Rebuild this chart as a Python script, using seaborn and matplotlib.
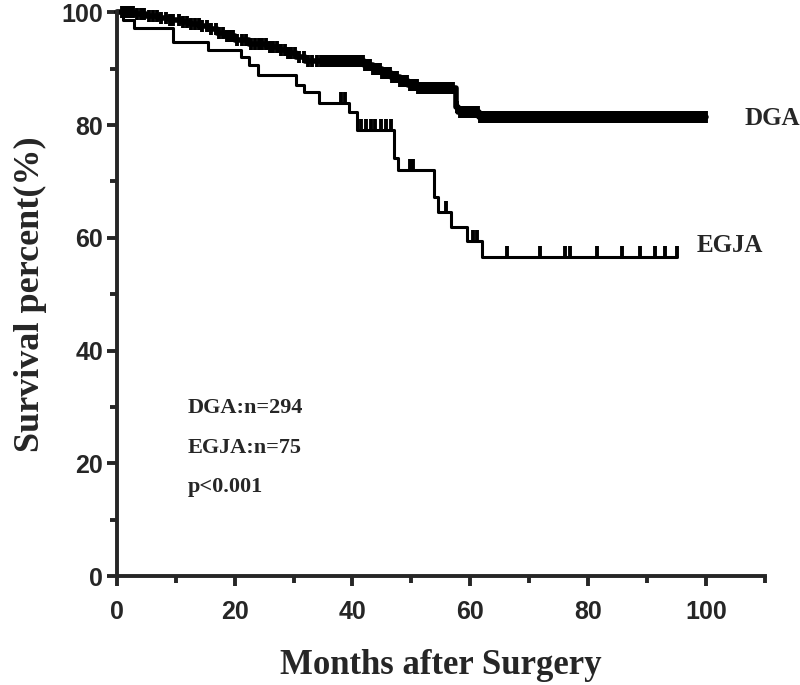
import matplotlib

matplotlib.use("Agg")
import matplotlib.pyplot as plt
import numpy as np
import pandas as pd
import seaborn as sns
from matplotlib.ticker import MultipleLocator

# Kaplan-Meier steps (month, survival %)
dga_time = [0, 3.0, 5.0, 7.0, 9.0, 11.0, 12.5, 14.0, 15.5, 17.0, 18.5, 20.0,
            22.5, 25.5, 27.5, 29.0, 30.5, 32.0, 42.0, 43.5, 45.0, 46.5, 48.0,
            49.5, 51.0, 57.5, 58.0, 61.5]
dga_surv = [100, 99.7, 99.3, 99.0, 98.6, 98.3, 97.9, 97.5, 97.1, 96.4, 95.8,
            95.1, 94.4, 93.9, 93.3, 92.7, 92.0, 91.3, 90.6, 89.9, 89.2, 88.5,
            87.8, 87.1, 86.5, 83.2, 82.4, 81.5]
# censored DGA patients are so dense that the marks merge into a band
dga_censor = [0.8, 1.2, 1.7, 2.0, 2.4, 2.8, 3.5, 4.1, 4.6, 5.5, 6.2, 6.8,
              7.5, 8.3, 9.0, 9.6, 10.5, 11.2, 12.0, 12.6, 13.2, 13.9, 14.5,
              15.3, 16.0, 16.8, 17.4, 18.0, 18.7, 19.2, 19.8, 20.4, 21.2, 22.0,
              22.7, 23.5, 24.1, 24.6, 25.3, 26.0, 26.6, 27.2, 27.9, 28.5, 29.0,
              29.6, 30.2, 31.0, 31.8, 32.5, 33.2, 34.0, 34.6, 35.2, 35.6, 36.0,
              36.5, 37.1, 37.5, 38.0, 38.4, 38.8, 39.2, 39.5, 39.9, 40.3, 40.6,
              41.0, 41.4, 41.8, 42.2, 42.6, 43.0, 43.5, 43.9, 44.3, 44.7, 45.1,
              45.6, 46.0, 46.4, 46.8, 47.2, 47.6, 48.0, 48.5, 48.9, 49.3, 49.7,
              50.1, 50.5, 50.9, 51.2, 51.6, 52.0, 52.4, 52.8, 53.2, 53.6, 54.0,
              54.3, 54.7, 55.1, 55.5, 55.9, 56.2, 56.6, 57.0, 57.8, 58.2, 58.6,
              59.0, 59.4, 59.8, 60.2, 60.6, 61.0, 61.3, 61.7, 62.1, 62.5, 62.9,
              63.3, 63.7, 64.0, 64.4, 64.8, 65.2, 65.6, 66.0, 66.4, 66.8, 67.1,
              67.5, 67.9, 68.3, 68.7, 69.1, 69.4, 69.8, 70.2, 70.6, 71.0, 71.4,
              71.8, 72.2, 72.5, 72.9, 73.3, 73.7, 74.1, 74.5, 74.9, 75.3, 75.6,
              76.0, 76.4, 76.8, 77.2, 77.6, 78.0, 78.4, 78.7, 79.1, 79.5, 79.9,
              80.3, 80.7, 81.1, 81.5, 81.8, 82.2, 82.6, 83.0, 83.4, 83.8, 84.2,
              84.6, 84.9, 85.3, 85.7, 86.1, 86.5, 86.9, 87.3, 87.7, 88.0, 88.4,
              88.8, 89.2, 89.6, 90.0, 90.4, 90.8, 91.1, 91.5, 91.9, 92.3, 92.7,
              93.1, 93.5, 93.9, 94.2, 94.6, 95.0, 95.4, 95.8, 96.2, 96.6, 97.0,
              97.3, 97.7, 98.1, 98.5, 98.9, 99.3, 99.7, 100.0]

egja_time = [0, 1.0, 3.0, 9.5, 15.5, 21.0, 22.5, 24.0, 30.5, 31.8, 34.3, 39.5,
             40.8, 47.0, 47.8, 53.9, 54.6, 56.8, 59.4, 62.0]
egja_surv = [100, 98.7, 97.3, 94.7, 93.3, 92.0, 90.7, 88.9, 87.1, 85.8, 84.0,
             82.3, 79.2, 74.1, 72.0, 67.2, 64.5, 61.9, 59.5, 56.6]
egja_censor = [38.0, 38.8, 41.5, 42.3, 43.1, 43.9, 44.8, 45.7, 46.5, 49.7, 50.3,
               55.8, 60.5, 61.2, 66.3, 71.8, 76.0, 76.9, 81.6, 85.7, 88.8, 91.3,
               93.0, 95.1]

group_names = ["DGA", "EGJA"]
group_n = [294, 75]
p_text = "p<0.001"


def km_frames(times, surv, censor):
    """Build the step curve and censor-mark tables for one group."""
    t = np.asarray(times, dtype=float)
    s = np.asarray(surv, dtype=float)
    c = np.asarray(censor, dtype=float)
    end = max(t[-1], c.max())
    curve = pd.DataFrame({"month": np.append(t, end), "surv": np.append(s, s[-1])})
    idx = np.searchsorted(t, c, side="right") - 1
    marks = pd.DataFrame({"month": c, "surv": s[idx]})
    return curve, marks


sns.set_theme(style="ticks")
plt.rcParams["font.family"] = ["Liberation Sans", "DejaVu Sans"]

fig = plt.figure(figsize=(8, 6.85), dpi=100)
ax = fig.add_axes([0.146, 0.159, 0.81, 0.823])

# (times, surv, censor, line width, marker, marker size)
groups = [
    (dga_time, dga_surv, dga_censor, 4.0, "|", 65),
    (egja_time, egja_surv, egja_censor, 2.2, 2, 60),
]
for times, surv, censor, lw, mk, ms in groups:
    curve, marks = km_frames(times, surv, censor)
    sns.lineplot(data=curve, x="month", y="surv", drawstyle="steps-post",
                 estimator=None, sort=False, color="black", linewidth=lw,
                 ax=ax, clip_on=False)
    sns.scatterplot(data=marks, x="month", y="surv", marker=mk, s=ms,
                    color="black", linewidth=2.8, ax=ax, clip_on=False, zorder=3)

ax.set_xlim(0, 110)
ax.set_ylim(0, 100)
ax.xaxis.set_major_locator(MultipleLocator(20))
ax.xaxis.set_minor_locator(MultipleLocator(10))
ax.yaxis.set_major_locator(MultipleLocator(20))
ax.yaxis.set_minor_locator(MultipleLocator(10))
sns.despine(ax=ax)
for side in ["left", "bottom"]:
    ax.spines[side].set_linewidth(2.8)
ax.tick_params(which="major", length=7, width=2.8, direction="out", labelsize=18)
ax.tick_params(which="minor", length=5, width=2.8, direction="out")
ax.tick_params(axis="x", which="major", pad=10)
ax.tick_params(axis="y", which="major", pad=3)
for lab in ax.get_xticklabels() + ax.get_yticklabels():
    lab.set_fontweight("bold")

serif = ["Liberation Serif", "DejaVu Serif"]
ax.set_xlabel("Months after Surgery", fontsize=25, fontweight="bold",
              family=serif, labelpad=18)
ax.set_ylabel("Survival percent(%)", fontsize=26, fontweight="bold",
              family=serif, labelpad=10)

# group labels at the ends of the curves
ax.text(106.5, 81.2, group_names[0], fontsize=18, fontweight="bold",
        family=serif, va="center", ha="left", clip_on=False)
ax.text(98.5, 58.6, group_names[1], fontsize=18, fontweight="bold",
        family=serif, va="center", ha="left", clip_on=False)

info = [f"{group_names[0]}:n={group_n[0]}", f"{group_names[1]}:n={group_n[1]}", p_text]
for i, line in enumerate(info):
    ax.text(12, 29.8 - i * 7.0, line, fontsize=16, fontweight="bold",
            family=serif, va="center", ha="left")

fig.savefig("out.png", dpi=100)
